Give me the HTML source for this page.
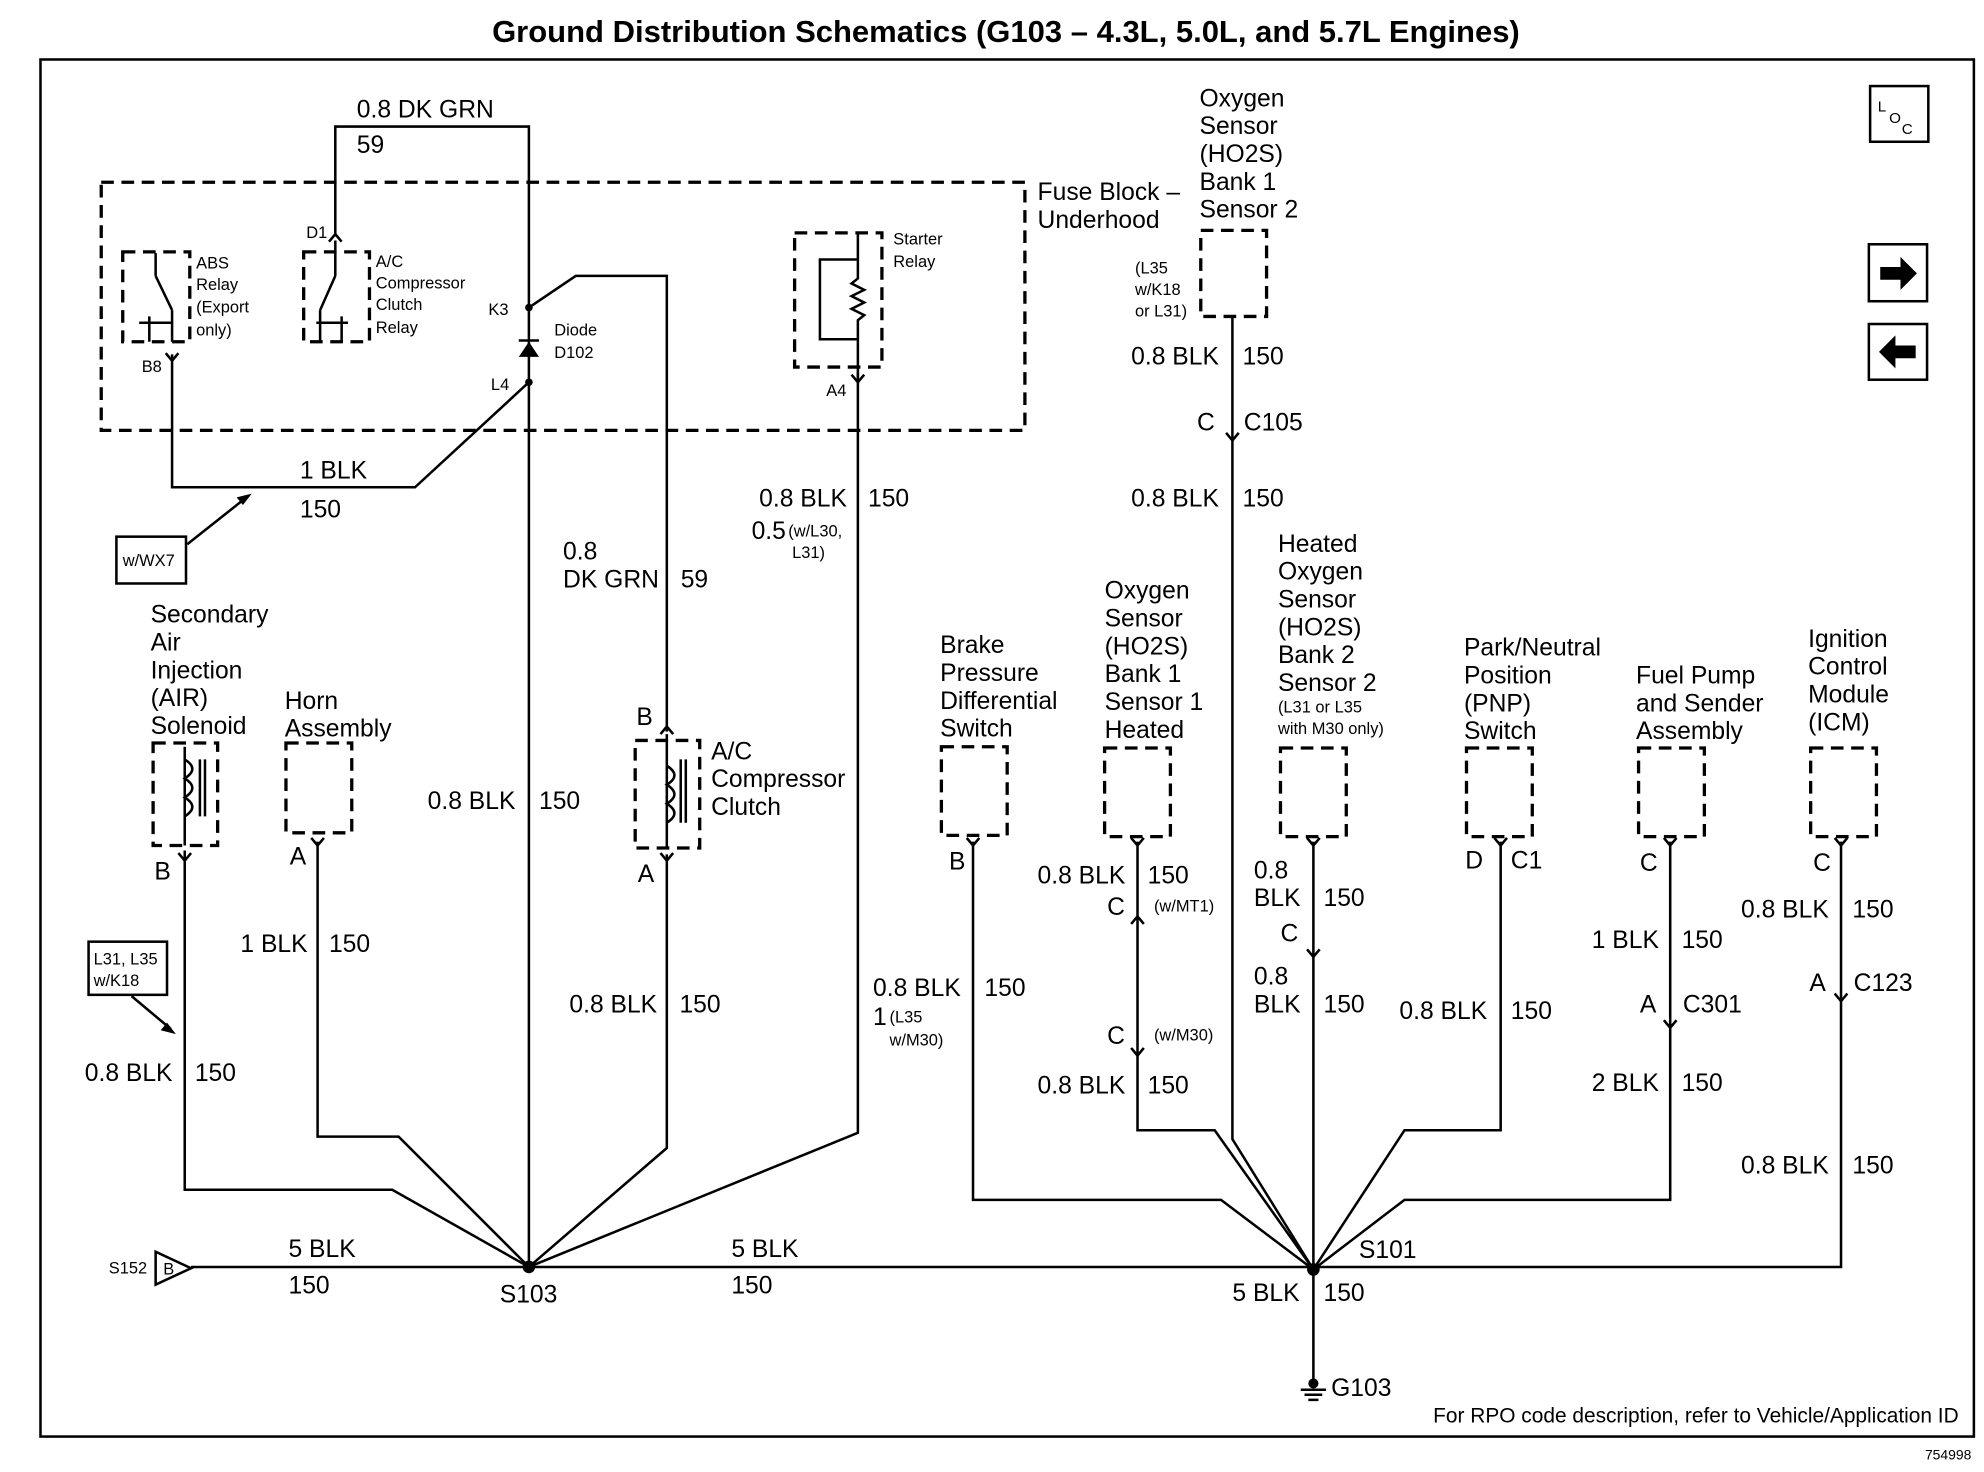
<!DOCTYPE html>
<html><head><meta charset="utf-8"><style>
html,body{margin:0;padding:0;background:#fff}
svg{display:block}
text{font-family:"Liberation Sans",Arial,sans-serif;fill:#000}
.l{font-size:19.5px}
.s{font-size:13px}
.w{stroke:#000;stroke-width:2;fill:none}
.d{stroke:#000;stroke-width:2.6;fill:none;stroke-dasharray:10,6}
</style></head><body>
<svg width="1984" height="1472" viewBox="0 0 1568 1163" preserveAspectRatio="none" xmlns="http://www.w3.org/2000/svg">
<rect width="1568" height="1163" fill="#fff"/>
<text x="795" y="33" font-size="24.5" font-weight="bold" text-anchor="middle">Ground Distribution Schematics (G103 – 4.3L, 5.0L, and 5.7L Engines)</text>
<rect x="32" y="47" width="1528" height="1088" class="w"/>
<text x="1558" y="1153" font-size="11" text-anchor="end">754998</text>
<text x="1548" y="1124" font-size="16.5" text-anchor="end">For RPO code description, refer to Vehicle/Application ID</text>
<!-- LOC & arrows -->
<rect x="1478" y="68" width="46" height="44" class="w"/>
<text x="1484" y="88" font-size="12">L</text><text x="1493" y="97" font-size="12">O</text><text x="1503" y="106" font-size="12">C</text>
<rect x="1477" y="193" width="46" height="45" class="w"/>
<path d="M1486 211h16v-8l13 13-13 13v-8h-16z" fill="#000"/>
<rect x="1477" y="256" width="46" height="44" class="w"/>
<path d="M1514 273h-16v-8l-13 13 13 13v-8h16z" fill="#000"/>
<!-- Fuse block -->
<rect x="80" y="144" width="730" height="196" class="d"/>
<text x="820" y="158" class="l">Fuse Block –</text><text x="820" y="180" class="l">Underhood</text>
<!-- DK GRN top -->
<path class="w" d="M265 185V100H418V243"/>
<text x="282" y="93" class="l">0.8 DK GRN</text><text x="282" y="121" class="l">59</text>
<text x="242" y="188" class="s">D1</text>
<!-- ABS relay -->
<rect x="97" y="199" width="53" height="71" class="d"/>
<path class="w" d="M123 200v18M123 218l13 27M136 245v25M118 270v-20M110 255h25" stroke-width="1.5"/>
<text x="155" y="212" class="s">ABS</text><text x="155" y="229" class="s">Relay</text><text x="155" y="247" class="s">(Export</text><text x="155" y="265" class="s">only)</text>
<text x="112" y="294" class="s">B8</text>
<!-- AC relay -->
<rect x="240" y="199" width="52" height="71" class="d"/>
<path class="w" d="M265 190v28M265 218l-12 27M253 245v25M270 270v-20M250 255h25" stroke-width="1.5"/>
<text x="297" y="211" class="s">A/C</text><text x="297" y="228" class="s">Compressor</text><text x="297" y="245" class="s">Clutch</text><text x="297" y="263" class="s">Relay</text>
<!-- Starter relay -->
<rect x="628" y="184" width="69" height="106" class="d"/>
<path class="w" d="M678 185v20H648v63h30v30M678 205v15l-5 4 10 5-10 5 10 5-10 5 10 5-5 4v15" stroke-width="1.5"/>
<text x="706" y="193" class="s">Starter</text><text x="706" y="211" class="s">Relay</text>
<text x="653" y="313" class="s">A4</text>
<!-- diode -->
<text x="386" y="249" class="s">K3</text><text x="388" y="308" class="s">L4</text>
<text x="438" y="265" class="s">Diode</text><text x="438" y="283" class="s">D102</text>
<path d="M410 282h16l-8-12z" fill="#000"/><path class="w" d="M410 269h16"/>
<circle cx="418" cy="243" r="3" fill="#000"/><circle cx="418" cy="302" r="3" fill="#000"/>
<!-- main wires S103 -->
<path class="w" d="M418 243V1001"/>
<path class="w" d="M418 243L455 218H527V578"/>
<path class="w" d="M136 280V385H328L418 302"/>
<text x="237" y="378" class="l">1 BLK</text><text x="237" y="409" class="l">150</text>
<path class="w" d="M148 430L196 392"/><path d="M199 390l-12 3 5 6z" fill="#000"/>
<rect x="92" y="424" width="55" height="37" class="w"/><text x="97" y="447" class="s">w/WX7</text>
<path class="w" d="M678 295V895L418 1001"/>
<text x="600" y="400" class="l">0.8 BLK</text><text x="686" y="400" class="l">150</text>
<text x="594" y="426" class="l">0.5</text><text x="623" y="424" class="s">(w/L30,</text><text x="626" y="441" class="s">L31)</text>
<text x="445" y="442" class="l">0.8</text><text x="445" y="464" class="l">DK GRN</text><text x="538" y="464" class="l">59</text>
<text x="338" y="639" class="l">0.8 BLK</text><text x="426" y="639" class="l">150</text>
<!-- Secondary air -->
<text x="119" y="492" class="l">Secondary</text><text x="119" y="514" class="l">Air</text><text x="119" y="536" class="l">Injection</text><text x="119" y="558" class="l">(AIR)</text><text x="119" y="580" class="l">Solenoid</text>
<rect x="121" y="587" width="51" height="81" class="d"/>
<path class="w" d="M146 590v78M146 600c8 5 8 10 0 15c8 5 8 10 0 15c8 5 8 10 0 15M158 600v45M162 600v45" stroke-width="1.5"/>
<text x="122" y="695" class="l">B</text>
<path class="w" d="M146 672V940H310L418 1001"/>
<rect x="70" y="744" width="62" height="42" class="w"/><text x="74" y="762" class="s">L31, L35</text><text x="74" y="779" class="s">w/K18</text>
<path class="w" d="M104 787L135 813"/><path d="M139 817l-12-3 5-6z" fill="#000"/>
<text x="67" y="854" class="l">0.8 BLK</text><text x="154" y="854" class="l">150</text>
<!-- Horn -->
<text x="225" y="560" class="l">Horn</text><text x="225" y="582" class="l">Assembly</text>
<rect x="226" y="587" width="52" height="71" class="d"/>
<text x="229" y="683" class="l">A</text>
<path class="w" d="M251 665V898H315L418 1001"/>
<text x="190" y="752" class="l">1 BLK</text><text x="260" y="752" class="l">150</text>
<!-- AC clutch -->
<text x="503" y="573" class="l">B</text>
<rect x="502" y="585" width="51" height="85" class="d"/>
<path class="w" d="M527 580v90M527 605c8 5 8 10 0 15c8 5 8 10 0 15c8 5 8 10 0 15M538 600v50M542 600v50" stroke-width="1.5"/>
<text x="562" y="600" class="l">A/C</text><text x="562" y="622" class="l">Compressor</text><text x="562" y="644" class="l">Clutch</text>
<text x="504" y="697" class="l">A</text>
<path class="w" d="M527 675V907L418 1001"/>
<text x="450" y="800" class="l">0.8 BLK</text><text x="537" y="800" class="l">150</text>
<!-- S152 / bus -->
<text x="86" y="1006" class="s">S152</text>
<path class="w" d="M123 989v26l28-13z"/><text x="129" y="1007" class="s">B</text>
<path class="w" d="M151 1001H1038"/>
<circle cx="418" cy="1001" r="5" fill="#000"/><circle cx="1038" cy="1003" r="5" fill="#000"/>
<text x="228" y="993" class="l">5 BLK</text><text x="228" y="1022" class="l">150</text>
<text x="578" y="993" class="l">5 BLK</text><text x="578" y="1022" class="l">150</text>
<text x="395" y="1029" class="l">S103</text>
<!-- Upper O2 sensor -->
<text x="948" y="84" class="l">Oxygen</text><text x="948" y="106" class="l">Sensor</text><text x="948" y="128" class="l">(HO2S)</text><text x="948" y="150" class="l">Bank 1</text><text x="948" y="172" class="l">Sensor 2</text>
<rect x="949" y="182" width="52" height="68" class="d"/>
<text x="897" y="216" class="s">(L35</text><text x="897" y="233" class="s">w/K18</text><text x="897" y="250" class="s">or L31)</text>
<text x="894" y="288" class="l">0.8 BLK</text><text x="982" y="288" class="l">150</text>
<text x="946" y="340" class="l">C</text><text x="983" y="340" class="l">C105</text>
<text x="894" y="400" class="l">0.8 BLK</text><text x="982" y="400" class="l">150</text>
<path class="w" d="M974 250V900L1038 1003"/>
<!-- Brake -->
<text x="743" y="516" class="l">Brake</text><text x="743" y="538" class="l">Pressure</text><text x="743" y="560" class="l">Differential</text><text x="743" y="582" class="l">Switch</text>
<rect x="744" y="590" width="52" height="70" class="d"/>
<text x="750" y="687" class="l">B</text>
<path class="w" d="M769 665V948H965L1038 1003"/>
<text x="690" y="787" class="l">0.8 BLK</text><text x="778" y="787" class="l">150</text>
<text x="690" y="810" class="l">1</text><text x="703" y="808" class="s">(L35</text><text x="703" y="826" class="s">w/M30)</text>
<!-- O2 B1S1 -->
<text x="873" y="473" class="l">Oxygen</text><text x="873" y="495" class="l">Sensor</text><text x="873" y="517" class="l">(HO2S)</text><text x="873" y="539" class="l">Bank 1</text><text x="873" y="561" class="l">Sensor 1</text><text x="873" y="583" class="l">Heated</text>
<rect x="873" y="591" width="52" height="70" class="d"/>
<text x="820" y="698" class="l">0.8 BLK</text><text x="907" y="698" class="l">150</text>
<text x="875" y="723" class="l">C</text><text x="912" y="720" class="s">(w/MT1)</text>
<text x="875" y="825" class="l">C</text><text x="912" y="822" class="s">(w/M30)</text>
<text x="820" y="864" class="l">0.8 BLK</text><text x="907" y="864" class="l">150</text>
<path class="w" d="M899 665V893H960L1038 1003"/>
<!-- Heated O2 B2S2 -->
<text x="1010" y="436" class="l">Heated</text><text x="1010" y="458" class="l">Oxygen</text><text x="1010" y="480" class="l">Sensor</text><text x="1010" y="502" class="l">(HO2S)</text><text x="1010" y="524" class="l">Bank 2</text><text x="1010" y="546" class="l">Sensor 2</text>
<text x="1010" y="563" class="s">(L31 or L35</text><text x="1010" y="580" class="s">with M30 only)</text>
<rect x="1012" y="591" width="52" height="70" class="d"/>
<text x="991" y="694" class="l">0.8</text><text x="991" y="716" class="l">BLK</text><text x="1046" y="716" class="l">150</text>
<text x="1012" y="744" class="l">C</text>
<text x="991" y="778" class="l">0.8</text><text x="991" y="800" class="l">BLK</text><text x="1046" y="800" class="l">150</text>
<path class="w" d="M1038 665V1090"/>
<!-- PNP -->
<text x="1157" y="518" class="l">Park/Neutral</text><text x="1157" y="540" class="l">Position</text><text x="1157" y="562" class="l">(PNP)</text><text x="1157" y="584" class="l">Switch</text>
<rect x="1159" y="591" width="52" height="70" class="d"/>
<text x="1158" y="686" class="l">D</text><text x="1194" y="686" class="l">C1</text>
<path class="w" d="M1186 665V893H1110L1038 1003"/>
<text x="1106" y="805" class="l">0.8 BLK</text><text x="1194" y="805" class="l">150</text>
<!-- Fuel pump -->
<text x="1293" y="540" class="l">Fuel Pump</text><text x="1293" y="562" class="l">and Sender</text><text x="1293" y="584" class="l">Assembly</text>
<rect x="1295" y="591" width="52" height="70" class="d"/>
<text x="1296" y="688" class="l">C</text>
<text x="1258" y="749" class="l">1 BLK</text><text x="1329" y="749" class="l">150</text>
<text x="1296" y="800" class="l">A</text><text x="1330" y="800" class="l">C301</text>
<text x="1258" y="862" class="l">2 BLK</text><text x="1329" y="862" class="l">150</text>
<path class="w" d="M1320 665V948H1110L1038 1003"/>
<!-- ICM -->
<text x="1429" y="511" class="l">Ignition</text><text x="1429" y="533" class="l">Control</text><text x="1429" y="555" class="l">Module</text><text x="1429" y="577" class="l">(ICM)</text>
<rect x="1431" y="591" width="52" height="70" class="d"/>
<text x="1433" y="688" class="l">C</text>
<text x="1376" y="725" class="l">0.8 BLK</text><text x="1464" y="725" class="l">150</text>
<text x="1430" y="783" class="l">A</text><text x="1465" y="783" class="l">C123</text>
<text x="1376" y="927" class="l">0.8 BLK</text><text x="1464" y="927" class="l">150</text>
<path class="w" d="M1455 665V1001H1038"/>
<!-- S101 -->
<text x="1074" y="994" class="l">S101</text>
<text x="974" y="1028" class="l">5 BLK</text><text x="1046" y="1028" class="l">150</text>
<circle cx="1038" cy="1093" r="4" fill="#000"/>
<path class="w" d="M1028 1098h20M1031 1102h14M1034 1106h8"/>
<text x="1052" y="1103" class="l">G103</text>
<!-- connector chevrons -->
<g class="w" stroke-width="1.6">
<path d="M131 279l5 6 5-6M260 191l5-6 5 6M673 296l5 6 5-6M141 674l5 6 5-6M246 662l5 6 5-6M522 580l5-6 5 6M522 674l5 6 5-6M969 342l5 6 5-6M764 662l5 6 5-6M894 662l5 6 5-6M894 730l5-6 5 6M894 828l5 6 5-6M1033 662l5 6 5-6M1033 750l5 6 5-6M1181 662l5 6 5-6M1315 662l5 6 5-6M1315 806l5 6 5-6M1450 662l5 6 5-6M1450 785l5 6 5-6"/>
</g>
</svg>
</body></html>
